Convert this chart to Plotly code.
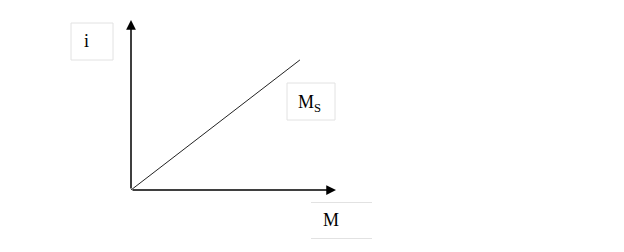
import plotly.graph_objects as go

# Data (arbitrary units)
M_values = [0, 8.24]
i_values = [0, 7.65]
x_axis_max = 10
y_axis_max = 10
label_y = "i"
label_x = "M"
label_line = "M<sub>S</sub>"

W, H = 624, 252
L, R, T, B = 131, 624 - 336, 20, 252 - 190
pw = W - L - R
ph = H - T - B

def px(x):
    return (x - L) / pw

def py(y):
    return (H - B - y) / ph

FONT = dict(family="Liberation Serif, Times New Roman, serif", size=18, color="#000000")
BOX = "#e2e2e2"

fig = go.Figure()
fig.add_trace(go.Scatter(x=M_values, y=i_values, mode="lines",
                         line=dict(color="#222222", width=1), cliponaxis=False,
                         hoverinfo="skip", showlegend=False))

shapes = [
    dict(type="rect", xref="paper", yref="paper", x0=px(71), x1=px(113), y0=py(23), y1=py(60),
         line=dict(color=BOX, width=1)),
    dict(type="rect", xref="paper", yref="paper", x0=px(287), x1=px(335), y0=py(83), y1=py(120),
         line=dict(color=BOX, width=1)),
    dict(type="line", xref="paper", yref="paper", x0=px(311), x1=px(372), y0=py(202.5), y1=py(202.5),
         line=dict(color=BOX, width=1)),
    dict(type="line", xref="paper", yref="paper", x0=px(311), x1=px(372), y0=py(238.5), y1=py(238.5),
         line=dict(color=BOX, width=1)),
]

annotations = [
    # axes arrows
    dict(x=x_axis_max, y=0, ax=0, ay=0, xref="x", yref="y", axref="x", ayref="y",
         showarrow=True, arrowhead=2, arrowsize=1.3, arrowwidth=1.5, arrowcolor="#000000", text=""),
    dict(x=0, y=y_axis_max, ax=0, ay=0, xref="x", yref="y", axref="x", ayref="y",
         showarrow=True, arrowhead=2, arrowsize=1.3, arrowwidth=1.5, arrowcolor="#000000", text=""),
    # labels
    dict(x=px(82), y=py(41), xref="paper", yref="paper", text=label_y, showarrow=False,
         xanchor="left", yanchor="middle", font=FONT),
    dict(x=px(296), y=py(103), xref="paper", yref="paper", text=label_line, showarrow=False,
         xanchor="left", yanchor="middle", font=FONT),
    dict(x=px(321), y=py(220), xref="paper", yref="paper", text=label_x, showarrow=False,
         xanchor="left", yanchor="middle", font=FONT),
]

fig.update_layout(
    width=W, height=H,
    margin=dict(l=L, r=R, t=T, b=B, pad=0),
    paper_bgcolor="white", plot_bgcolor="white",
    xaxis=dict(range=[0, x_axis_max], visible=False, fixedrange=True),
    yaxis=dict(range=[0, y_axis_max], visible=False, fixedrange=True),
    shapes=shapes, annotations=annotations, showlegend=False,
)

fig.write_html("out.html", config={"displayModeBar": False})
